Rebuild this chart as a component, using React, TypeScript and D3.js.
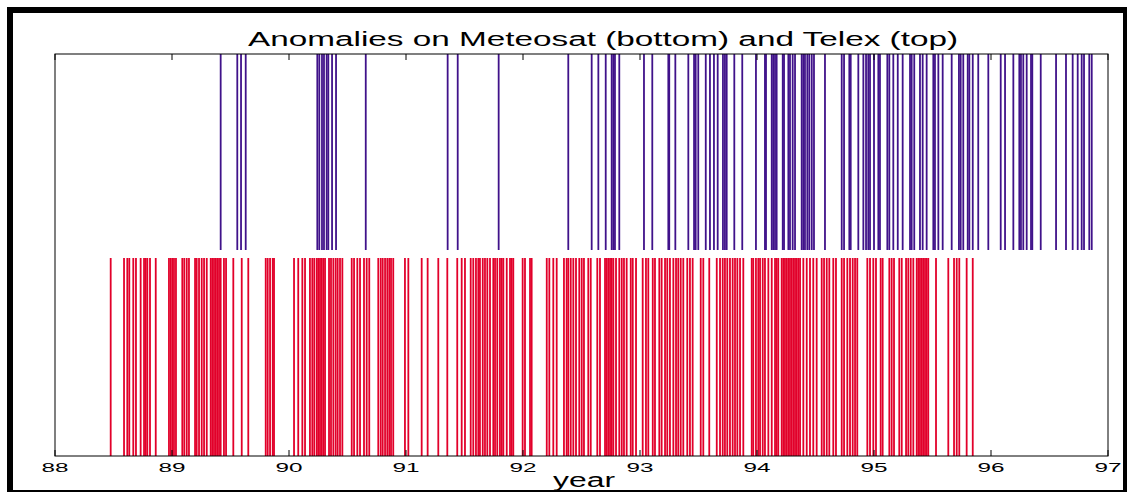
import * as d3 from 'd3';

// Telex anomaly dates (top band, purple)
const telexYears = [
  89.416, 89.558, 89.590, 89.630, 90.242, 90.259, 90.282, 90.299, 90.322, 90.336,
  90.368, 90.402, 90.656, 91.356, 91.442, 91.792, 92.387, 92.587, 92.644, 92.707,
  92.758, 92.772, 92.786, 92.823, 93.034, 93.105, 93.242, 93.250, 93.302, 93.413,
  93.462, 93.476, 93.498, 93.562, 93.598, 93.632, 93.664, 93.709, 93.726, 93.741,
  93.806, 93.874, 93.991, 94.068, 94.077, 94.126, 94.139, 94.154, 94.168, 94.220,
  94.231, 94.268, 94.282, 94.305, 94.325, 94.382, 94.396, 94.410, 94.430, 94.447,
  94.468, 94.487, 94.581, 94.724, 94.744, 94.789, 94.801, 94.866, 94.909, 94.932,
  94.951, 94.966, 95.000, 95.037, 95.051, 95.114, 95.131, 95.165, 95.203, 95.245,
  95.308, 95.322, 95.344, 95.393, 95.416, 95.450, 95.507, 95.521, 95.550, 95.587,
  95.664, 95.726, 95.741, 95.763, 95.801, 95.815, 95.844, 95.891, 95.977, 96.083,
  96.120, 96.191, 96.242, 96.256, 96.276, 96.305, 96.342, 96.353, 96.425, 96.556,
  96.641, 96.698, 96.741, 96.775, 96.795, 96.840, 96.861,
];

// Meteosat anomaly dates (bottom band, red)
const meteosatYears = [
  88.476, 88.590, 88.618, 88.635, 88.669, 88.692, 88.732, 88.761, 88.775, 88.789,
  88.812, 88.861, 88.974, 88.989, 89.003, 89.017, 89.034, 89.088, 89.105, 89.126,
  89.145, 89.197, 89.211, 89.231, 89.254, 89.274, 89.297, 89.331, 89.344, 89.359,
  89.374, 89.387, 89.402, 89.416, 89.444, 89.462, 89.524, 89.596, 89.652, 89.801,
  89.818, 89.838, 89.861, 89.872, 90.043, 90.079, 90.114, 90.137, 90.179, 90.199,
  90.216, 90.237, 90.250, 90.265, 90.279, 90.293, 90.308, 90.342, 90.359, 90.379,
  90.399, 90.416, 90.436, 90.456, 90.536, 90.556, 90.584, 90.607, 90.641, 90.664,
  90.686, 90.763, 90.784, 90.801, 90.821, 90.840, 90.857, 90.872, 90.891, 90.991,
  91.020, 91.134, 91.185, 91.276, 91.353, 91.438, 91.476, 91.504, 91.553, 91.575,
  91.598, 91.618, 91.632, 91.656, 91.675, 91.695, 91.718, 91.746, 91.761, 91.780,
  91.803, 91.818, 91.832, 91.861, 91.889, 91.903, 91.917, 91.997, 92.017, 92.060,
  92.074, 92.203, 92.225, 92.259, 92.288, 92.350, 92.373, 92.387, 92.408, 92.430,
  92.453, 92.481, 92.502, 92.521, 92.558, 92.579, 92.635, 92.658, 92.701, 92.715,
  92.729, 92.744, 92.758, 92.772, 92.795, 92.823, 92.844, 92.863, 92.886, 92.921,
  92.938, 92.966, 93.023, 93.051, 93.071, 93.109, 93.128, 93.165, 93.185, 93.214,
  93.233, 93.256, 93.285, 93.308, 93.327, 93.348, 93.370, 93.404, 93.427, 93.450,
  93.519, 93.541, 93.592, 93.656, 93.684, 93.707, 93.726, 93.746, 93.769, 93.792,
  93.812, 93.832, 93.855, 93.883, 93.955, 93.968, 93.991, 94.011, 94.026, 94.049,
  94.068, 94.097, 94.126, 94.154, 94.168, 94.182, 94.211, 94.225, 94.239, 94.254,
  94.268, 94.282, 94.297, 94.311, 94.325, 94.339, 94.353, 94.368, 94.396, 94.425,
  94.453, 94.481, 94.510, 94.553, 94.573, 94.596, 94.618, 94.652, 94.675, 94.724,
  94.744, 94.772, 94.795, 94.818, 94.838, 94.857, 94.943, 94.966, 94.994, 95.017,
  95.057, 95.074, 95.131, 95.151, 95.171, 95.216, 95.237, 95.274, 95.293, 95.314,
  95.336, 95.365, 95.379, 95.393, 95.408, 95.421, 95.436, 95.450, 95.464, 95.530,
  95.635, 95.684, 95.707, 95.729, 95.792, 95.844,
];

const xTicks = [88, 89, 90, 91, 92, 93, 94, 95, 96, 97];

const width = 1133;
const height = 493;
const margin = { top: 54, right: 25, bottom: 37, left: 55 };

export default function App() {
  const innerW = width - margin.left - margin.right;
  const innerH = height - margin.top - margin.bottom;

  const x = d3.scaleLinear().domain([88, 97]).range([0, innerW]);
  const y = d3.scaleLinear().domain([0, 2]).range([innerH, 0]);

  const font = 'Liberation Sans, Arial, Helvetica, sans-serif';

  return (
    <svg
      width={width}
      height={height}
      style={{ position: 'absolute', left: 0, top: 0, display: 'block', background: '#fff' }}
    >
      {/* figure frame: heavy left/top, lighter right/bottom */}
      <rect x={7} y={7} width={6} height={485} fill="#000" />
      <rect x={7} y={7} width={1120} height={6} fill="#000" />
      <rect x={1123} y={7} width={4} height={485} fill="#000" />
      <rect x={7} y={490} width={1120} height={2} fill="#000" />

      <text
        x={603}
        y={46}
        textAnchor="middle"
        fontFamily={font}
        fontSize={20}
        textLength={710}
        lengthAdjust="spacingAndGlyphs"
        fill="#000"
      >
        Anomalies on Meteosat (bottom) and Telex (top)
      </text>

      <g transform={`translate(${margin.left},${margin.top})`}>
        {meteosatYears.map((d, i) => (
          <line
            key={'m' + i}
            x1={x(d)}
            x2={x(d)}
            y1={y(0)}
            y2={y(0.985)}
            stroke="#e2002a"
            strokeWidth={1.8}
          />
        ))}
        {telexYears.map((d, i) => (
          <line
            key={'t' + i}
            x1={x(d)}
            x2={x(d)}
            y1={y(1.025)}
            y2={y(2)}
            stroke="#40128a"
            strokeWidth={1.8}
          />
        ))}

        <rect x={0} y={0} width={innerW} height={innerH} fill="none" stroke="#000" strokeWidth={1} />

        {xTicks.map(t => (
          <g key={t}>
            <line x1={x(t)} x2={x(t)} y1={innerH} y2={innerH - 6} stroke="#000" />
            <line x1={x(t)} x2={x(t)} y1={0} y2={6} stroke="#000" />
            <text
              x={x(t)}
              y={innerH + 16}
              textAnchor="middle"
              fontFamily={font}
              fontSize={12.5}
              textLength={27}
              lengthAdjust="spacingAndGlyphs"
              fill="#000"
            >
              {t}
            </text>
          </g>
        ))}
      </g>

      <text
        x={584}
        y={487}
        textAnchor="middle"
        fontFamily={font}
        fontSize={20}
        textLength={62}
        lengthAdjust="spacingAndGlyphs"
        fill="#000"
      >
        year
      </text>
    </svg>
  );
}
